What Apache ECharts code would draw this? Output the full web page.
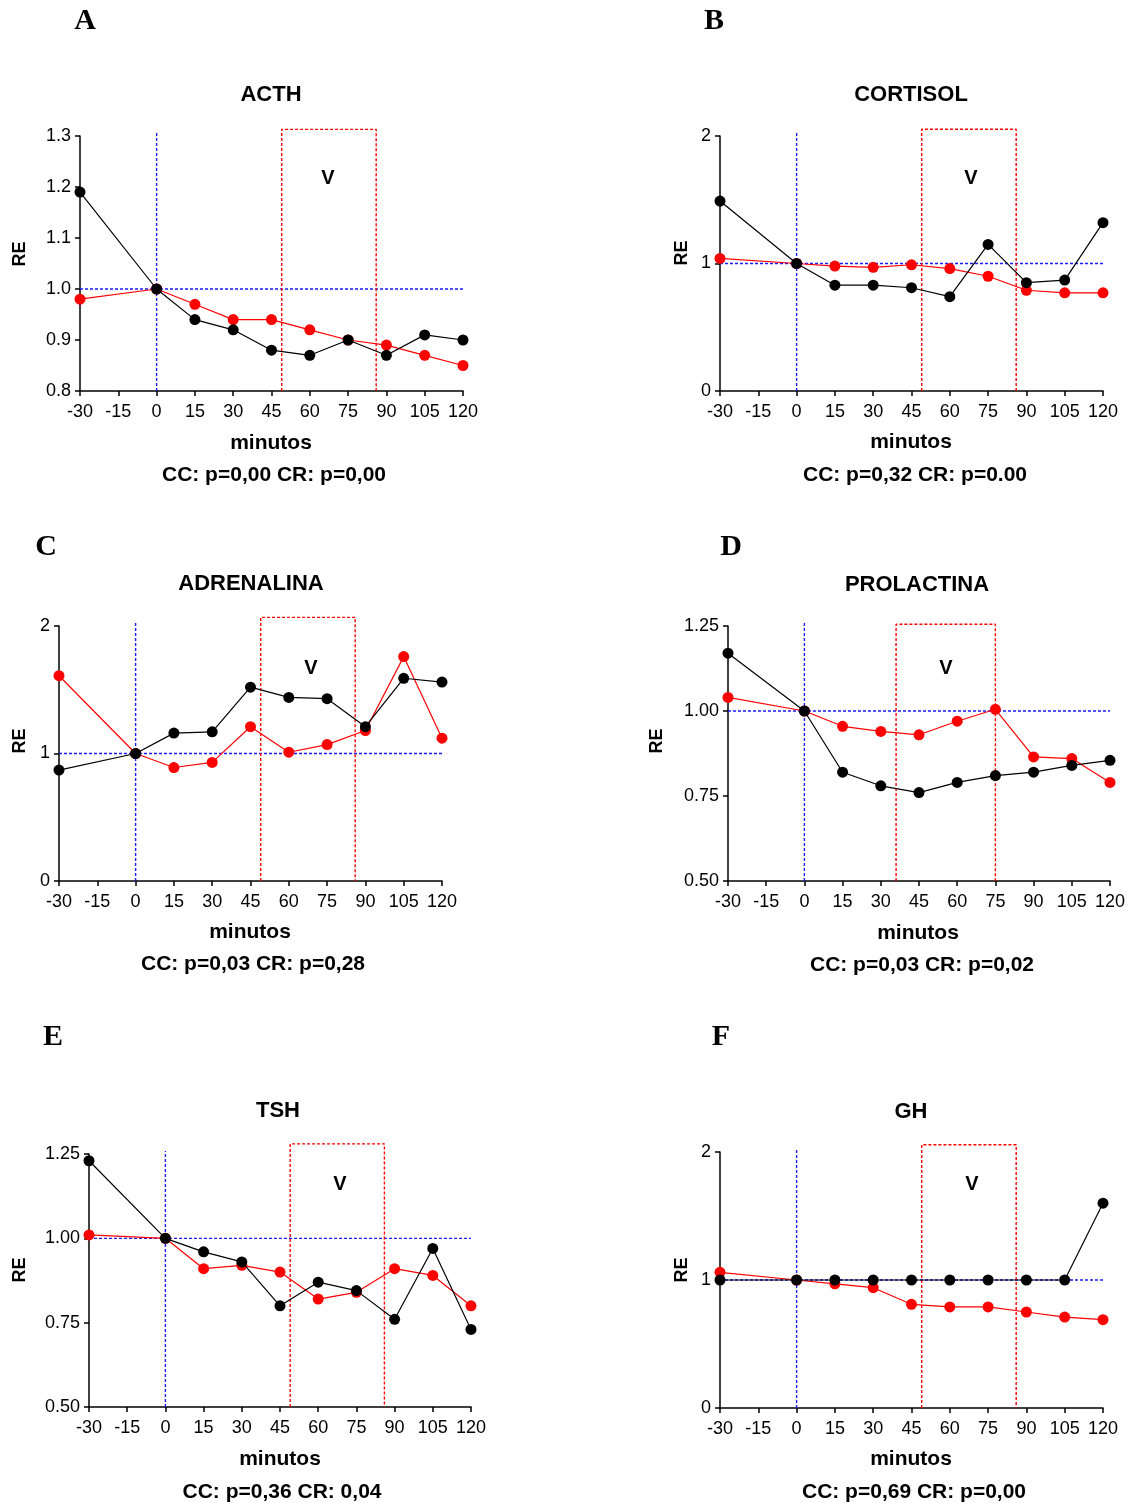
<!DOCTYPE html>
<html>
<head>
<meta charset="utf-8">
<script src="https://cdn.jsdelivr.net/npm/echarts@6/dist/echarts.min.js"></script>
<style>
  html, body { margin: 0; padding: 0; background: #ffffff; }
  #chart { width: 1130px; height: 1503px; }
</style>
</head>
<body>
<div id="chart"></div>
<script>
// Sampling times (minutes)
const times = [-30, 0, 15, 30, 45, 60, 75, 90, 105, 120];

// Relative values (RE) per hormone, two groups each
const acthBlack = [1.19, 1.00, 0.94, 0.92, 0.88, 0.87, 0.90, 0.87, 0.91, 0.90];
const acthRed   = [0.98, 1.00, 0.97, 0.94, 0.94, 0.92, 0.90, 0.89, 0.87, 0.85];

const cortisolBlack = [1.49, 1.00, 0.83, 0.83, 0.81, 0.74, 1.15, 0.85, 0.87, 1.32];
const cortisolRed   = [1.04, 1.00, 0.98, 0.97, 0.99, 0.96, 0.90, 0.79, 0.77, 0.77];

const adrenalinaBlack = [0.87, 1.00, 1.16, 1.17, 1.52, 1.44, 1.43, 1.21, 1.59, 1.56];
const adrenalinaRed   = [1.61, 1.00, 0.89, 0.93, 1.21, 1.01, 1.07, 1.18, 1.76, 1.12];

const prolactinaBlack = [1.17, 1.00, 0.82, 0.78, 0.76, 0.79, 0.81, 0.82, 0.84, 0.855];
const prolactinaRed   = [1.04, 1.00, 0.955, 0.94, 0.93, 0.97, 1.005, 0.865, 0.86, 0.79];

const tshBlack = [1.23, 1.00, 0.96, 0.93, 0.80, 0.87, 0.845, 0.76, 0.97, 0.73];
const tshRed   = [1.01, 1.00, 0.91, 0.92, 0.90, 0.82, 0.84, 0.91, 0.89, 0.80];

const ghBlack = [1.00, 1.00, 1.00, 1.00, 1.00, 1.00, 1.00, 1.00, 1.00, 1.60];
const ghRed   = [1.06, 1.00, 0.97, 0.94, 0.81, 0.79, 0.79, 0.75, 0.71, 0.69];

// "V" window per panel: [start min, end min, top in RE units]
const acthWindow       = [49, 86, 1.313];
const cortisolWindow   = [49, 86, 2.053];
const adrenalinaWindow = [49, 86, 2.068];
const prolactinaWindow = [36, 75, 1.255];
const tshWindow        = [49, 86, 1.28];
const ghWindow         = [49, 86, 2.057];

// Y-axis ranges: [min, max, interval, decimals]
const acthY       = [0.8, 1.3, 0.1, 1];
const cortisolY   = [0, 2, 1, 0];
const adrenalinaY = [0, 2, 1, 0];
const prolactinaY = [0.5, 1.25, 0.25, 2];
const tshY        = [0.5, 1.25, 0.25, 2];
const ghY         = [0, 2, 1, 0];

const titles = ['ACTH', 'CORTISOL', 'ADRENALINA', 'PROLACTINA', 'TSH', 'GH'];
const panelLetters = ['A', 'B', 'C', 'D', 'E', 'F'];
const statsTexts = [
  'CC: p=0,00 CR: p=0,00',
  'CC: p=0,32 CR: p=0.00',
  'CC: p=0,03 CR: p=0,28',
  'CC: p=0,03 CR: p=0,02',
  'CC: p=0,36 CR: 0,04',
  'CC: p=0,69 CR: p=0,00'
];

const panelData = [
  { black: acthBlack, red: acthRed, win: acthWindow, y: acthY },
  { black: cortisolBlack, red: cortisolRed, win: cortisolWindow, y: cortisolY },
  { black: adrenalinaBlack, red: adrenalinaRed, win: adrenalinaWindow, y: adrenalinaY },
  { black: prolactinaBlack, red: prolactinaRed, win: prolactinaWindow, y: prolactinaY },
  { black: tshBlack, red: tshRed, win: tshWindow, y: tshY },
  { black: ghBlack, red: ghRed, win: ghWindow, y: ghY }
];

// Page layout of each panel (pixels)
const layout = [
  { grid: [80, 136, 383, 255], letter: [85, 21], title: [271, 95], v: [328, 178], re: [20, 254], minutos: [271, 443], stats: [274, 475] },
  { grid: [720, 136, 383, 255], letter: [714, 21], title: [911, 95], v: [971, 178], re: [682, 253], minutos: [911, 442], stats: [915, 475] },
  { grid: [59, 626, 383, 255], letter: [46, 547], title: [251, 584], v: [311, 668], re: [20, 741], minutos: [250, 932], stats: [253, 964] },
  { grid: [728, 626, 382, 255], letter: [731, 547], title: [917, 585], v: [946, 668], re: [657, 741], minutos: [918, 933], stats: [922, 965] },
  { grid: [89, 1154, 382, 253], letter: [53, 1037], title: [278, 1111], v: [340, 1184], re: [20, 1270], minutos: [280, 1459], stats: [282, 1492] },
  { grid: [720, 1152, 383, 256], letter: [721, 1037], title: [911, 1112], v: [972, 1184], re: [682, 1270], minutos: [911, 1459], stats: [914, 1492] }
];

const SANS = '"Liberation Sans", Arial, Helvetica, sans-serif';
const SERIF = '"Liberation Serif", "Times New Roman", serif';

const grids = [], xAxes = [], yAxes = [], series = [], graphics = [];

function textEl(x, y, text, font, rotation) {
  return {
    type: 'text', x: x, y: y, rotation: rotation || 0, z: 100,
    style: {
      text: text, font: font, fill: '#000',
      align: 'center', verticalAlign: 'middle',
      textAlign: 'center', textVerticalAlign: 'middle'
    }
  };
}

function guideLine(i, pts, color, z) {
  return {
    type: 'line', xAxisIndex: i, yAxisIndex: i, z: z, silent: true, clip: false,
    symbol: 'none', animation: false,
    lineStyle: { color: color, type: [3, 2], width: 1.4 },
    data: pts
  };
}

panelData.forEach(function (p, i) {
  const L = layout[i];
  grids.push({ left: L.grid[0], top: L.grid[1], width: L.grid[2], height: L.grid[3], containLabel: false });

  xAxes.push({
    gridIndex: i, type: 'value', min: -30, max: 120, interval: 15,
    axisLine: { show: true, onZero: false, lineStyle: { color: '#000', width: 1.5 } },
    axisTick: { show: true, length: 5, lineStyle: { color: '#000', width: 1.5 } },
    axisLabel: { color: '#000', fontFamily: SANS, fontSize: 18, margin: 12 },
    splitLine: { show: false }
  });

  const dec = p.y[3];
  yAxes.push({
    gridIndex: i, type: 'value', min: p.y[0], max: p.y[1], interval: p.y[2],
    axisLine: { show: true, onZero: false, lineStyle: { color: '#000', width: 1.5 } },
    axisTick: { show: true, length: 5, lineStyle: { color: '#000', width: 1.5 } },
    axisLabel: { color: '#000', fontFamily: SANS, fontSize: 18, margin: 9,
      formatter: function (v) { return Number(v).toFixed(dec); } },
    splitLine: { show: false }
  });

  // Blue dashed reference lines at RE=1 and t=0
  const yTop = p.y[1] + (p.y[1] - p.y[0]) * 0.012;
  series.push(guideLine(i, [[-30, 1], [120, 1]], '#1a1aff', 1));
  series.push(guideLine(i, [[0, p.y[0]], [0, yTop]], '#1a1aff', 1));

  // Red dashed "V" window
  const w = p.win;
  series.push(guideLine(i, [[w[0], p.y[0]], [w[0], w[2]], [w[1], w[2]], [w[1], p.y[0]]], '#ff0000', 2));

  // Red group
  series.push({
    type: 'line', xAxisIndex: i, yAxisIndex: i, z: 3, animation: false,
    symbol: 'circle', symbolSize: 11,
    lineStyle: { color: '#ff0000', width: 1.2 },
    itemStyle: { color: '#ff0000' },
    data: times.map(function (t, k) { return [t, p.red[k]]; })
  });

  // Black group
  series.push({
    type: 'line', xAxisIndex: i, yAxisIndex: i, z: 4, animation: false,
    symbol: 'circle', symbolSize: 11,
    lineStyle: { color: '#000000', width: 1.2 },
    itemStyle: { color: '#000000' },
    data: times.map(function (t, k) { return [t, p.black[k]]; })
  });

  graphics.push(textEl(L.letter[0], L.letter[1], panelLetters[i], 'bold 30px ' + SERIF));
  graphics.push(textEl(L.title[0], L.title[1], titles[i], 'bold 22px ' + SANS));
  graphics.push(textEl(L.v[0], L.v[1], 'V', 'bold 20px ' + SANS));
  graphics.push(textEl(L.re[0], L.re[1], 'RE', 'bold 18px ' + SANS, Math.PI / 2));
  graphics.push(textEl(L.minutos[0], L.minutos[1], 'minutos', 'bold 21px ' + SANS));
  graphics.push(textEl(L.stats[0], L.stats[1], statsTexts[i], 'bold 21px ' + SANS));
});

const chart = echarts.init(document.getElementById('chart'), null, { renderer: 'canvas' });
chart.setOption({
  backgroundColor: '#ffffff',
  animation: false,
  grid: grids,
  xAxis: xAxes,
  yAxis: yAxes,
  series: series,
  graphic: { elements: graphics }
});
</script>
</body>
</html>
